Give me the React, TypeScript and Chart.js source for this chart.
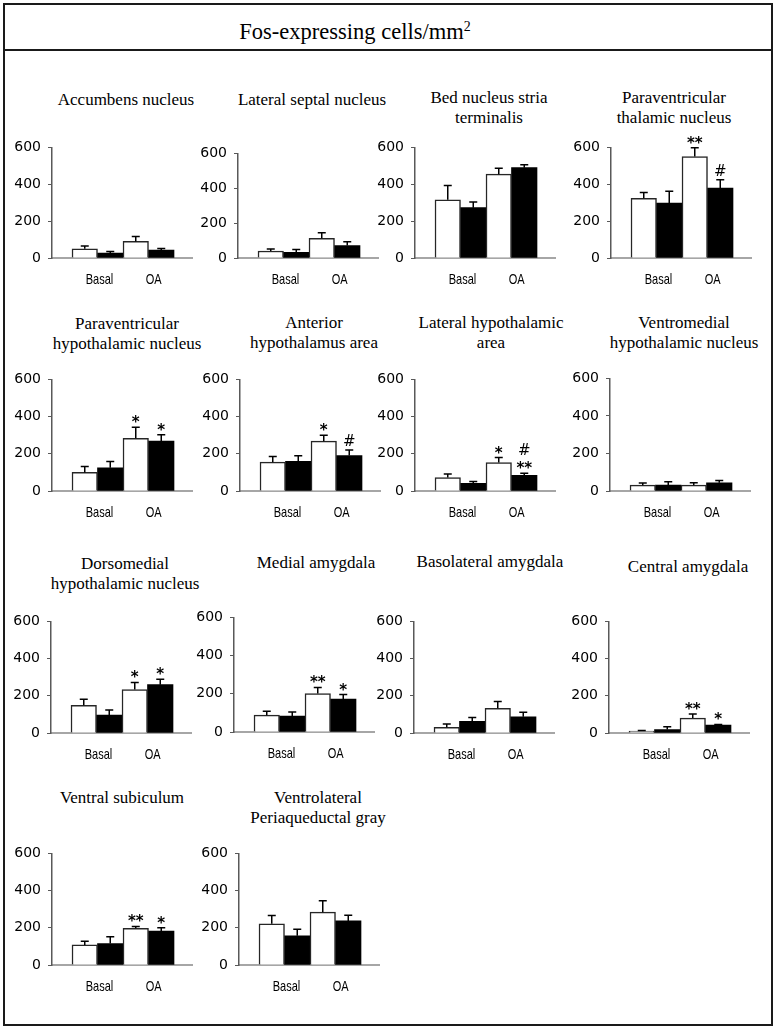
import React, { useEffect, useRef } from 'react';
import { Chart, registerables } from 'chart.js';

Chart.register(...registerables);

// ---------- data ----------
const mainTitle = 'Fos-expressing cells/mm';
const regionTitles: string[][] = [
  ['Accumbens nucleus'],
  ['Lateral septal nucleus'],
  ['Bed nucleus stria', 'terminalis'],
  ['Paraventricular', 'thalamic nucleus'],
  ['Paraventricular', 'hypothalamic nucleus'],
  ['Anterior', 'hypothalamus area'],
  ['Lateral hypothalamic', 'area'],
  ['Ventromedial', 'hypothalamic nucleus'],
  ['Dorsomedial', 'hypothalamic nucleus'],
  ['Medial amygdala'],
  ['Basolateral amygdala'],
  ['Central amygdala'],
  ['Ventral subiculum'],
  ['Ventrolateral', 'Periaqueductal gray'],
];
const categories = ['Basal', 'OA'];
const yMin = 0;
const yMax = 600;
const yStep = 100;
const yLabelStep = 200;

// open (white) bars: [Basal, OA] per region
const whiteMeans = [
  [50, 90], [40, 113], [316, 455], [324, 550],
  [100, 283], [155, 268], [72, 153], [31, 31],
  [149, 234], [88, 201], [31, 133], [10, 80],
  [108, 197], [222, 284],
];
const whiteErrors = [
  [15, 27], [11, 32], [77, 32], [31, 48],
  [32, 60], [31, 32], [19, 27], [11, 13],
  [32, 38], [20, 32], [17, 36], [4, 22],
  [20, 10], [44, 61],
];
// filled (black) bars
const blackMeans = [
  [27, 43], [33, 71], [273, 490], [298, 379],
  [125, 269], [160, 191], [41, 84], [31, 44],
  [96, 260], [83, 173], [63, 87], [19, 43],
  [115, 182], [157, 237],
];
const blackErrors = [
  [8, 8], [16, 22], [31, 16], [64, 46],
  [33, 34], [30, 29], [10, 12], [18, 12],
  [27, 29], [22, 23], [20, 24], [15, 3],
  [37, 18], [35, 31],
];
// significance marks, listed from bottom to top
const whiteMarks: string[][][] = [
  [[], []], [[], []], [[], []], [[], ['**']],
  [[], ['*']], [[], ['*']], [[], ['*']], [[], []],
  [[], ['*']], [[], ['**']], [[], []], [[], ['**']],
  [[], ['**']], [[], []],
];
const blackMarks: string[][][] = [
  [[], []], [[], []], [[], []], [[], ['#']],
  [[], ['*']], [[], ['#']], [[], ['**', '#']], [[], []],
  [[], ['*']], [[], ['*']], [[], []], [[], ['*']],
  [[], ['*']], [[], []],
];

// ---------- layout (styling only) ----------
// ax: x of y-axis, top: pixel of max, bot: pixel of 0, tx/ty: title centre/baseline
const panelLayout = [
  { ax: 52, top: 142, bot: 258, tx: 126, ty: 106 },
  { ax: 238, top: 148, bot: 258, tx: 312, ty: 106 },
  { ax: 415, top: 142, bot: 258, tx: 489, ty: 104 },
  { ax: 611, top: 142, bot: 258, tx: 674, ty: 104 },
  { ax: 52, top: 374, bot: 491, tx: 127, ty: 330 },
  { ax: 240, top: 374, bot: 491, tx: 314, ty: 329 },
  { ax: 415, top: 374, bot: 491, tx: 491, ty: 329 },
  { ax: 610, top: 373, bot: 491, tx: 684, ty: 329 },
  { ax: 51, top: 616, bot: 733, tx: 125, ty: 570 },
  { ax: 234, top: 612, bot: 732, tx: 316, ty: 569 },
  { ax: 414, top: 616, bot: 733, tx: 490, ty: 568 },
  { ax: 609, top: 616, bot: 733, tx: 688, ty: 573 },
  { ax: 52, top: 848, bot: 965, tx: 122, ty: 804 },
  { ax: 239, top: 848, bot: 965, tx: 318, ty: 804 },
];

const YW = 50; // y-axis box width
const PT = 10; // top padding
const PR = 4; // right padding
const XH = 40; // x-axis box height
const AXLEN = 140; // x-axis length
const BAR_OFFSET = 20; // gap between y axis and first bar
const GROUP_PX = 51; // width of one category group
const xMin = -0.5 - BAR_OFFSET / GROUP_PX;
const xMax = -0.5 + (AXLEN - BAR_OFFSET) / GROUP_PX;
const labelShift = [0.04, 0.1];
const CAT_LABEL_DY = 22; // centre of category label below the baseline
const CAT_SCALE_X = 0.76;

const TITLE_FONT = "'Liberation Serif', 'Times New Roman', serif";
const NUM_FONT = "'DejaVu Sans', Verdana, sans-serif";
const CAT_FONT = "'Liberation Sans', Arial, sans-serif";

function makePanelPlugin(i: number) {
  return {
    id: 'panelExtras' + i,
    afterDatasetsDraw(chart: any) {
      const { ctx } = chart;
      const yScale = chart.scales.y;
      const xScale = chart.scales.x;
      const means = [whiteMeans[i], blackMeans[i]];
      const errs = [whiteErrors[i], blackErrors[i]];
      const marks = [whiteMarks[i], blackMarks[i]];
      ctx.save();
      for (let d = 0; d < 2; d++) {
        const meta = chart.getDatasetMeta(d);
        meta.data.forEach((bar: any, k: number) => {
          const x = bar.x;
          const yTop = bar.y;
          const yErr = yScale.getPixelForValue(means[d][k] + errs[d][k]);
          ctx.strokeStyle = '#000';
          ctx.lineWidth = 1.5;
          ctx.beginPath();
          ctx.moveTo(x, yTop);
          ctx.lineTo(x, yErr);
          ctx.moveTo(x - 4, yErr);
          ctx.lineTo(x + 4, yErr);
          ctx.stroke();
          let bottom = yErr - 4;
          ctx.fillStyle = '#000';
          ctx.textAlign = 'center';
          ctx.textBaseline = 'alphabetic';
          for (const s of marks[d][k]) {
            ctx.font = s.includes('#') ? `15px ${NUM_FONT}` : `bold 15px ${NUM_FONT}`;
            const m = ctx.measureText(s);
            const asc = m.actualBoundingBoxAscent;
            const desc = m.actualBoundingBoxDescent;
            const baseline = bottom - desc;
            ctx.fillText(s, x, baseline);
            bottom = baseline - asc - 6;
          }
        });
      }
      // category labels (narrow sans)
      const base = yScale.getPixelForValue(0);
      ctx.fillStyle = '#000';
      ctx.font = `14.5px ${CAT_FONT}`;
      ctx.textAlign = 'center';
      ctx.textBaseline = 'middle';
      categories.forEach((c, k) => {
        const x = xScale.getPixelForValue(k + labelShift[k]);
        ctx.save();
        ctx.translate(x, base + CAT_LABEL_DY);
        ctx.scale(CAT_SCALE_X, 1);
        ctx.fillText(c, 0, 0);
        ctx.restore();
      });
      ctx.restore();
    },
  };
}

function Panel({ i }: { i: number }) {
  const ref = useRef<HTMLCanvasElement>(null);
  const L = panelLayout[i];
  const width = YW + AXLEN + PR;
  const height = PT + (L.bot - L.top) + XH;
  useEffect(() => {
    if (!ref.current) return;
    const chart = new Chart(ref.current, {
      type: 'bar',
      data: {
        datasets: [
          {
            label: 'Open bars',
            data: categories.map((_, k) => ({ x: k, y: whiteMeans[i][k] })),
            backgroundColor: '#ffffff',
            borderColor: '#262626',
            borderWidth: 1.5,
            categoryPercentage: 1,
            barPercentage: 1,
          },
          {
            label: 'Filled bars',
            data: categories.map((_, k) => ({ x: k, y: blackMeans[i][k] })),
            backgroundColor: '#000000',
            borderColor: '#000000',
            borderWidth: 0,
            categoryPercentage: 1,
            barPercentage: 1,
          },
        ],
      },
      options: {
        responsive: false,
        animation: false,
        devicePixelRatio: 1,
        layout: { padding: { top: PT, right: PR, left: 0, bottom: 0 } },
        plugins: {
          legend: { display: false },
          tooltip: { enabled: false },
          title: { display: false },
        },
        scales: {
          x: {
            type: 'linear',
            min: xMin,
            max: xMax,
            offset: false,
            afterBuildTicks: (s: any) => {
              s.ticks = categories.map((_, k) => ({ value: k + labelShift[k] }));
            },
            afterFit: (s: any) => {
              s.height = XH;
            },
            grid: { display: false, offset: false },
            border: { display: true, color: '#a6a6a6', width: 2 },
            ticks: {
              display: false,
              autoSkip: false,
              maxRotation: 0,
              callback: (_v: any, idx: number) => categories[idx],
            },
          },
          y: {
            type: 'linear',
            min: yMin,
            max: yMax,
            afterFit: (s: any) => {
              s.width = YW;
            },
            grid: {
              display: true,
              drawOnChartArea: false,
              drawTicks: true,
              tickLength: 4,
              color: '#595959',
              lineWidth: 1,
            },
            border: { display: true, color: '#595959', width: 1.5 },
            ticks: {
              stepSize: yStep,
              padding: 7,
              color: '#000',
              font: { family: NUM_FONT, size: 14 },
              callback: (v: any) => (Number(v) % yLabelStep === 0 ? String(v) : ''),
            },
          },
        },
      },
      plugins: [makePanelPlugin(i)],
    } as any);
    return () => chart.destroy();
  }, [i]);

  const lines = regionTitles[i];
  const lineH = 20;
  const firstBaselineOffset = 15.75;
  return (
    <>
      <div
        style={{
          position: 'absolute',
          left: L.tx - 110,
          width: 220,
          top: L.ty - firstBaselineOffset,
          textAlign: 'center',
          fontFamily: TITLE_FONT,
          fontSize: 17,
          lineHeight: lineH + 'px',
          color: '#000',
          whiteSpace: 'nowrap',
        }}
      >
        {lines.map((t, k) => (
          <div key={k}>{t}</div>
        ))}
      </div>
      <canvas
        ref={ref}
        width={width}
        height={height}
        style={{
          position: 'absolute',
          left: L.ax - YW,
          top: L.top - PT,
          width,
          height,
        }}
      />
    </>
  );
}

export default function App() {
  return (
    <div
      style={{
        position: 'absolute',
        left: 0,
        top: 0,
        width: 780,
        height: 1031,
        background: '#fff',
        overflow: 'hidden',
      }}
    >
      <div
        style={{
          position: 'absolute',
          left: 3,
          top: 3,
          width: 770,
          height: 1023,
          border: '2px solid #1a1a1a',
          boxSizing: 'border-box',
        }}
      />
      <div
        style={{
          position: 'absolute',
          left: 3,
          top: 49,
          width: 770,
          height: 2,
          background: '#1a1a1a',
        }}
      />
      <div
        style={{
          position: 'absolute',
          left: 0,
          width: 710,
          top: 18.5,
          textAlign: 'center',
          fontFamily: TITLE_FONT,
          fontSize: 22.5,
          lineHeight: '26px',
          color: '#000',
          whiteSpace: 'nowrap',
        }}
      >
        {mainTitle}
        <sup style={{ fontSize: '0.62em', lineHeight: 0, verticalAlign: 'super' }}>2</sup>
      </div>
      {regionTitles.map((_, i) => (
        <Panel key={i} i={i} />
      ))}
    </div>
  );
}
